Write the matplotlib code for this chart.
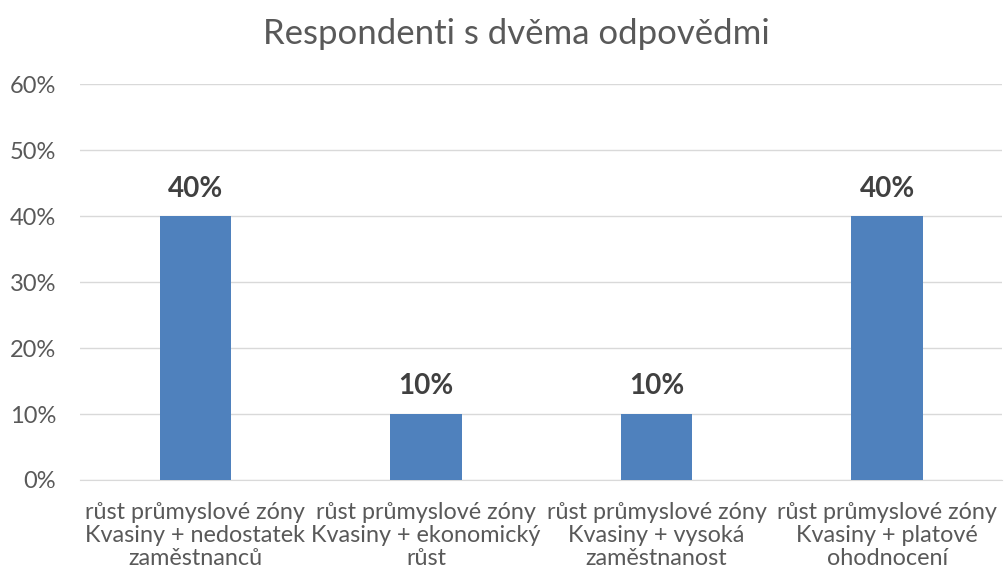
import matplotlib
matplotlib.use('Agg')
import matplotlib.pyplot as plt
import numpy as np

categories = [
    "růst průmyslové zóny\nKvasiny + nedostatek\nzaměstnanců",
    "růst průmyslové zóny\nKvasiny + ekonomický\nrůst",
    "růst průmyslové zóny\nKvasiny + vysoká\nzaměstnanost",
    "růst průmyslové zóny\nKvasiny + platové\nohodnocení",
]
values = [0.40, 0.10, 0.10, 0.40]
y_ticks = [0.0, 0.1, 0.2, 0.3, 0.4, 0.5, 0.6]

plt.rcParams['font.family'] = ['Lato', 'DejaVu Sans']
text_color = "#595959"

fig = plt.figure(figsize=(10.06, 5.83), dpi=100)
ax = fig.add_axes([0.0795, 0.1767, 0.917, 0.679])

x = np.arange(len(categories))
bars = ax.bar(x, values, width=0.31, color="#4F81BD", zorder=3)

for b, v in zip(bars, values):
    ax.text(b.get_x() + b.get_width() / 2, v + 0.022, f"{v:.0%}",
            ha="center", va="bottom", fontsize=20, fontweight="bold", color="#404040")

ax.set_xlim(-0.5, len(categories) - 0.5)
ax.set_ylim(0, 0.6)
ax.set_yticks(y_ticks)
ax.set_yticklabels([f"{t:.0%}" for t in y_ticks])
ax.set_xticks(x)
ax.set_xticklabels(categories, linespacing=1.12)
ax.tick_params(axis="y", length=0, colors=text_color, labelsize=17, pad=17)
ax.tick_params(axis="x", length=0, colors=text_color, labelsize=16.8, pad=16)
ax.grid(axis="y", color="#D9D9D9", linewidth=1, zorder=0)
for s in ["top", "right", "left"]:
    ax.spines[s].set_visible(False)
ax.spines["bottom"].set_color("#D9D9D9")

fig.text(0.513, 0.942, "Respondenti s dvěma odpovědmi", ha="center", va="center",
         fontsize=25, color=text_color)

plt.savefig("out.png", dpi=100)
plt.close()
